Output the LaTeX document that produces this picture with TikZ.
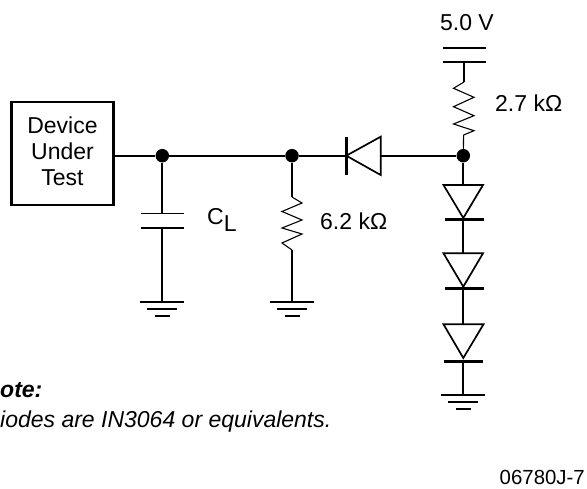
\documentclass[tikz,border=0pt]{standalone}
\usepackage{fontspec}
\setmainfont{Liberation Sans}
\usetikzlibrary{positioning}

\tikzset{
  wire/.style={line width=1.7pt},
  thin wire/.style={line width=1.1pt},
  plate/.style={line width=1.7pt},
  diode bar/.style={line width=2.5pt},
  diode body/.style={line width=1.7pt, line join=miter},
  junction/.style={circle, fill=black, inner sep=0pt, minimum size=13.5pt},
  dutbox/.style={draw, line width=2.4pt, minimum width=102pt, minimum height=103pt, align=center, inner sep=0pt},
  label/.style={inner sep=0pt, font=\fontsize{23}{26}\selectfont},
  small label/.style={inner sep=0pt, font=\fontsize{20.4}{24}\selectfont},
}

\begin{document}
\begin{tikzpicture}[x=1pt,y=-1pt]
\useasboundingbox (0,0) rectangle (587,489);

\node[dutbox, label] (dut) at (62.5,153.7) {Device\\Under\\Test\vspace{4pt}};
\node[junction] (joina) at (162.3,155.7) {};
\node[junction] (joinb) at (292,155.7) {};
\node[junction] (joinc) at (463.3,155.7) {};

\coordinate (capa) at (162.3,213.5);
\coordinate (capb) at (162.3,228);
\coordinate (supa) at (464,47.7);
\coordinate (supb) at (464,61.7);
\coordinate (gnda) at (162.3,301.7);
\coordinate (gndb) at (292,301.7);
\coordinate (gndc) at (463.3,394.7);

% main line
\draw[wire] (joina -| dut.east) -- (joina);
\draw[wire] (joina) -- (joinb);
\coordinate (diodel) at (346.3,155.7);
\coordinate (diodeh) at (380.7,155.7);
\draw[wire] (joinb) -- (diodel);
\draw[wire] (diodeh) -- (joinc);

% load capacitor
\draw[wire] (joina) -- (capa);
\draw[wire] (capb) -- (gnda);
\draw[plate] (141,213.5) -- (184,213.5);
\draw[plate] (141,228) -- (184,228);

% supply
\draw[plate] (443.3,47.7) -- (485.7,47.7);
\draw[plate] (443.3,61.7) -- (485.7,61.7);

% 2.7k resistor
\coordinate (rupa) at (464,82);
\coordinate (rupb) at (463.6,135);
\draw[wire] (supb) -- (rupa);
\draw[thin wire] (rupa) -- (453.5,88.3) -- (474,97.3) -- (453.5,106.7) -- (474,115.7) -- (453.5,124) -- (474,130.7) -- (rupb);
\draw[thin wire] (rupb) -- (joinc);

% 6.2k resistor
\coordinate (rdna) at (292,197);
\coordinate (rdnb) at (292,250);
\draw[thin wire] (joinb) -- (rdna);
\draw[thin wire] (rdna) -- (302,203) -- (282,211.5) -- (302,220) -- (282,228) -- (302,234) -- (282,243) -- (rdnb);
\draw[wire] (rdnb) -- (gndb);

% grounds
\foreach \gndname in {gnda,gndb,gndc} {
  \draw[plate] ([xshift=-22pt]\gndname) -- ([xshift=22pt]\gndname);
  \draw[plate] ([xshift=-15pt,yshift=-7.3pt]\gndname) -- ([xshift=15pt,yshift=-7.3pt]\gndname);
  \draw[plate] ([xshift=-7.5pt,yshift=-14.5pt]\gndname) -- ([xshift=7.5pt,yshift=-14.5pt]\gndname);
}

% diodes
\draw[diode body] (diodel) -- (380.7,136.7) -- (380.7,175) -- cycle;
\draw[diode bar] (346.3,137) -- (346.3,175);

\draw[wire] (joinc) -- (463.3,185);
\draw[diode body] (443.5,185) -- (483,185) -- (463.3,218) -- cycle;
\draw[diode bar] (445,219.5) -- (484,219.5);
\draw[wire] (463.3,219.5) -- (463.3,253.3);
\draw[diode body] (443.5,253.3) -- (483,253.3) -- (463.3,286.7) -- cycle;
\draw[diode bar] (445,288.3) -- (484,288.3);
\draw[wire] (463.3,288.3) -- (463.3,324.3);
\draw[diode body] (443.5,324.3) -- (483.5,324.3) -- (463.3,358) -- cycle;
\draw[diode bar] (444,361.3) -- (483,361.3);
\draw[wire] (463.3,361.3) -- (gndc);

% labels
\node[label, anchor=base] (volt) at (467,30.7) {5.0 V};
\node[label, anchor=base west] (rupval) at (495,111.5) {2.7 kΩ};
\node[label, anchor=base west] (rdnval) at (320,230) {6.2 kΩ};
\node[label, anchor=base west] (cload) at (207,225) {C\raisebox{-7pt}{L}};
\node[label, anchor=base west, font=\fontsize{23}{26}\selectfont\bfseries\itshape] (notehead) at (0,398) {ote:};
\node[label, anchor=base west, font=\fontsize{23}{26}\selectfont\itshape] (notetext) at (0,427) {iodes are IN3064 or equivalents.};
\node[small label, anchor=base east] (figid) at (585,484.5) {06780J-7};
\end{tikzpicture}
\end{document}
